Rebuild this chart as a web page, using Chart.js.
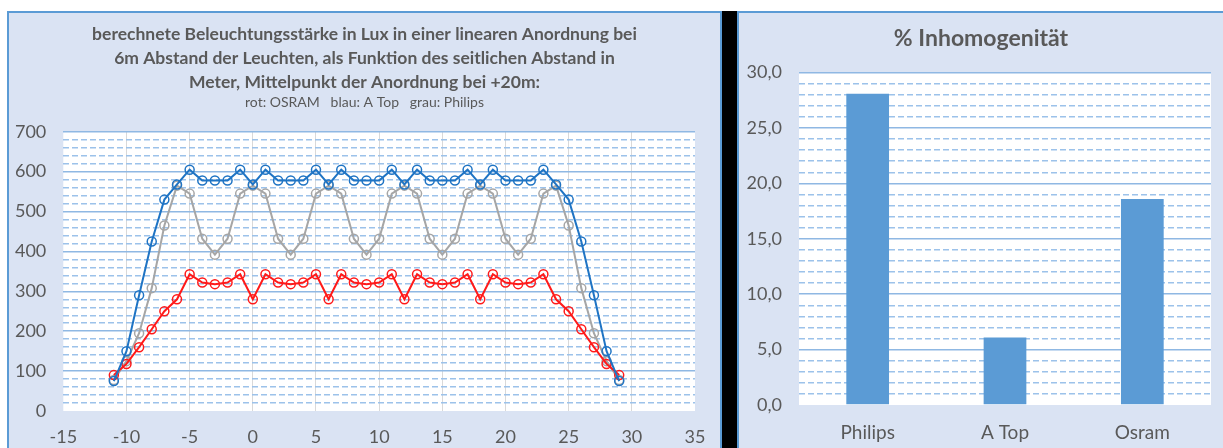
<!DOCTYPE html>
<html>
<head>
<meta charset="utf-8">
<script src="https://cdn.jsdelivr.net/npm/chart.js@4.4.0/dist/chart.umd.min.js"></script>
<style>
  body { margin: 0; background: #fff; width: 1223px; height: 448px; overflow: hidden; position: relative; }
  .panel { position: absolute; background: #dae3f3; border: 2px solid #5b9bd5; box-sizing: border-box; }
  #left { left: 7px; top: 11px; width: 715px; height: 450px; }
  #right { left: 737px; top: 11px; width: 500px; height: 450px; }
  #gap { position: absolute; left: 722px; top: 11px; width: 15px; height: 437px; background: #000; }
  canvas { position: absolute; left: 0; top: 0; }
</style>
</head>
<body>
<div class="panel" id="left"><canvas id="luxChart" width="711" height="435"></canvas></div>
<div id="gap"></div>
<div class="panel" id="right"><canvas id="inhomChart" width="484" height="435"></canvas></div>
<script>
// lateral distance in m
const abstand = [-11, -10, -9, -8, -7, -6, -5, -4, -3, -2, -1, 0, 1, 2, 3, 4, 5, 6, 7, 8, 9,
  10, 11, 12, 13, 14, 15, 16, 17, 18, 19, 20, 21, 22, 23, 24, 25, 26, 27, 28, 29];
// illuminance in lux
const luxATop = [75, 150, 290, 425, 530, 568, 605, 578, 578, 578, 605, 568, 605, 578, 578, 578, 605,
  568, 605, 578, 578, 578, 605, 568, 605, 578, 578, 578, 605, 568, 605, 578, 578, 578, 605, 568,
  530, 425, 290, 150, 75];
const luxOsram = [90, 118, 160, 205, 250, 280, 343, 322, 318, 322, 343, 280, 343, 322, 318, 322, 343,
  280, 343, 322, 318, 322, 343, 280, 343, 322, 318, 322, 343, 280, 343, 322, 318, 322, 343, 280,
  250, 205, 160, 118, 90];
const luxPhilips = [78, 125, 195, 308, 465, 565, 545, 432, 392, 432, 545, 565, 545, 432, 392, 432, 545,
  565, 545, 432, 392, 432, 545, 565, 545, 432, 392, 432, 545, 565, 545, 432, 392, 432, 545, 565,
  465, 308, 195, 125, 78];

const hersteller = ["Philips", "A Top", "Osram"];
const inhomogenitaet = [28.1, 6.1, 18.6];

const leftTitle = [
  "berechnete Beleuchtungsstärke in Lux in einer linearen Anordnung bei",
  "6m Abstand der Leuchten, als Funktion des seitlichen Abstand in",
  "Meter, Mittelpunkt der Anordnung bei +20m:"
];
const leftSubtitle = "rot: OSRAM   blau: A Top   grau: Philips";

const textColor = "#595959";
const fontFamily = "Lato, 'Open Sans', sans-serif";
const majorGrid = "#8fb8e3";
const minorGrid = "#9cc2ea";

// white plot area behind the grid
const plotBg = {
  id: "plotBg",
  beforeDraw(chart) {
    const a = chart.chartArea;
    chart.ctx.save();
    chart.ctx.fillStyle = "#fff";
    chart.ctx.fillRect(a.left, a.top, a.right - a.left, a.bottom - a.top);
    chart.ctx.restore();
  }
};

function pts(ys) {
  return ys.map((y, i) => ({x: abstand[i], y: y}));
}

function series(data, color) {
  return {
    data: pts(data),
    borderColor: color,
    borderWidth: 2,
    pointRadius: 4.5,
    pointBorderWidth: 1.5,
    pointBorderColor: color,
    pointBackgroundColor: "rgba(255,255,255,0)",
    fill: false,
    tension: 0
  };
}

new Chart("luxChart", {
  type: "line",
  data: {
    datasets: [
      series(luxATop, "#1f74c4"),
      series(luxOsram, "#ff1a1a"),
      series(luxPhilips, "#a6a6a6")
    ]
  },
  plugins: [plotBg],
  options: {
    responsive: false,
    animation: false,
    layout: { padding: 0 },
    plugins: {
      legend: { display: false },
      tooltip: { enabled: false },
      title: {
        display: true,
        text: leftTitle,
        color: textColor,
        font: { family: fontFamily, size: 17.5, weight: "bold", lineHeight: 1.371 },
        padding: { top: 9, bottom: 0 }
      },
      subtitle: {
        display: true,
        text: leftSubtitle,
        color: textColor,
        font: { family: fontFamily, size: 14, lineHeight: 1.2 },
        padding: { top: 0, bottom: 21 }
      }
    },
    scales: {
      x: {
        type: "linear",
        min: -15, max: 35,
        ticks: { stepSize: 5, color: textColor, font: { family: fontFamily, size: 18 }, padding: 15 },
        grid: {
          drawTicks: false,
          color: c => (c.tick && (c.tick.value === -15 || c.tick.value === 35)) ? "rgba(0,0,0,0)" : "#d9d9d9"
        },
        border: { display: false },
        afterFit: s => { s.height = 37; s.paddingRight = 25; }
      },
      y: {
        min: 0, max: 700,
        ticks: { stepSize: 100, color: textColor, font: { family: fontFamily, size: 18 }, padding: 17 },
        grid: {
          drawTicks: false,
          lineWidth: 1.5,
          color: c => (c.tick && c.tick.value === 0) ? "rgba(0,0,0,0)" : majorGrid
        },
        border: { display: false },
        afterFit: s => { s.width = 54.3; }
      },
      yMinor: {
        axis: "y",
        position: "left",
        min: 0, max: 700,
        ticks: { stepSize: 20, display: false },
        grid: {
          drawTicks: false,
          lineWidth: 1.5,
          color: c => (c.tick && c.tick.value % 100 === 0) ? "rgba(0,0,0,0)" : minorGrid
        },
        border: { display: false, dash: [6, 3] },
        afterFit: s => { s.width = 0; }
      }
    }
  }
});

new Chart("inhomChart", {
  type: "bar",
  data: {
    labels: hersteller,
    datasets: [{
      data: inhomogenitaet,
      backgroundColor: "#5b9bd5",
      borderWidth: 0,
      barPercentage: 0.311,
      categoryPercentage: 1
    }]
  },
  plugins: [plotBg],
  options: {
    responsive: false,
    animation: false,
    layout: { padding: 0 },
    plugins: {
      legend: { display: false },
      tooltip: { enabled: false },
      title: {
        display: true,
        text: "% Inhomogenität",
        color: textColor,
        font: { family: fontFamily, size: 23, weight: "bold", lineHeight: 1.2 },
        padding: { top: 12, bottom: 20 }
      }
    },
    scales: {
      x: {
        ticks: { color: textColor, font: { family: fontFamily, size: 19 }, padding: 16.5 },
        grid: { display: false, drawTicks: false },
        border: { display: false },
        afterFit: s => { s.height = 43; s.paddingRight = 12; }
      },
      y: {
        min: 0, max: 30,
        ticks: {
          stepSize: 5, color: textColor, font: { family: fontFamily, size: 18 }, padding: 17,
          callback: v => v.toFixed(1).replace(".", ",")
        },
        grid: {
          drawTicks: false,
          lineWidth: 1.5,
          color: c => (c.tick && c.tick.value === 0) ? "rgba(0,0,0,0)" : majorGrid
        },
        border: { display: false },
        afterFit: s => { s.width = 60; }
      },
      yMinor: {
        axis: "y",
        position: "left",
        min: 0, max: 30,
        ticks: { stepSize: 1, display: false },
        grid: {
          drawTicks: false,
          lineWidth: 1.5,
          color: c => (c.tick && c.tick.value % 5 === 0) ? "rgba(0,0,0,0)" : minorGrid
        },
        border: { display: false, dash: [6, 3] },
        afterFit: s => { s.width = 0; }
      }
    }
  }
});
</script>
</body>
</html>
